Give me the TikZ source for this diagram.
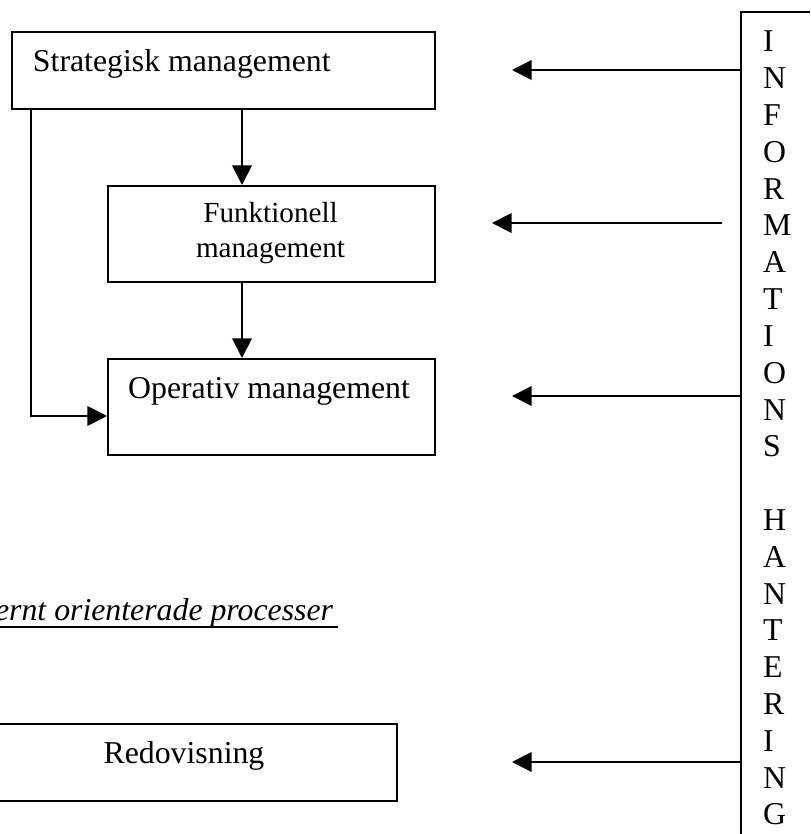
\documentclass[tikz,border=0pt]{standalone}
\usepackage{fontspec}
\setmainfont{Liberation Serif}
\usetikzlibrary{arrows.meta,calc}
\def\u{0.3774pt}
\begin{document}
\begin{tikzpicture}[x=0.3774pt,y=-0.3774pt,
  line width=0.75pt,
  box/.style={draw, rectangle, inner sep=0pt, anchor=north west},
  arr/.style={-{Triangle[length=7.4pt,width=7.4pt]}},
  lbl/.style={inner sep=0pt, font=\fontsize{12}{13.9}\selectfont},
  small/.style={inner sep=0pt, font=\fontsize{11}{12.65}\selectfont},
]
\useasboundingbox (0,0) rectangle (810,834);

% management levels
\node[box, minimum width=423*\u, minimum height=77*\u] (strat) at (11,31) {};
\node[box, minimum width=327*\u, minimum height=96*\u] (funk) at (107,185) {};
\node[box, minimum width=327*\u, minimum height=96*\u] (oper) at (107,358) {};
\node[box, minimum width=423*\u, minimum height=77*\u] (redo) at (-27,723) {};

\node[lbl, anchor=base west] (stratT) at (32,72) {Strategisk management};
\node[small, anchor=base] (funkT1) at (270.5,223) {Funktionell};
\node[small, anchor=base] (funkT2) at (270.5,257) {management};
\node[lbl, anchor=base] (operT) at (269,398) {Operativ management};
\node[lbl, anchor=base] (redoT) at (184,763) {Redovisning};

% section heading
\node[lbl, anchor=base east, font=\fontsize{12}{13.9}\selectfont\itshape] (proc) at (334,620) {ernt orienterade processer};
\draw ($(proc.base west)+(-10,7)$) -- ($(proc.base east)+(4,7)$);

% information handling column
\draw (810,12) -- (741,12) -- (741,834);
\foreach \ch/\k in {I/0,N/1,F/2,O/3,R/4,M/5,A/6,T/7,I/8,O/9,N/10,S/11,
                    H/13,A/14,N/15,T/16,E/17,R/18,I/19,N/20,G/21}
  \node[lbl, anchor=base west] (v\k) at (762,52+36.8*\k) {\ch};

% flows between levels
\coordinate (xA) at (242,0);
\coordinate (xB) at (31,416);
\draw[arr] (strat.south -| xA) -- (funk.north -| xA);
\draw[arr] (funk.south -| xA) -- (oper.north -| xA);
\draw[arr] (strat.south -| xB) |- (oper.west |- xB);

% information flows
\coordinate (s1) at (741,70);  \coordinate (t1) at (512,70);
\coordinate (s2) at (722,223); \coordinate (t2) at (492,223);
\coordinate (s3) at (741,396); \coordinate (t3) at (512,396);
\coordinate (s4) at (741,762); \coordinate (t4) at (512,762);
\draw[arr] (s1) -- (t1);
\draw[arr] (s2) -- (t2);
\draw[arr] (s3) -- (t3);
\draw[arr] (s4) -- (t4);
\end{tikzpicture}
\end{document}
